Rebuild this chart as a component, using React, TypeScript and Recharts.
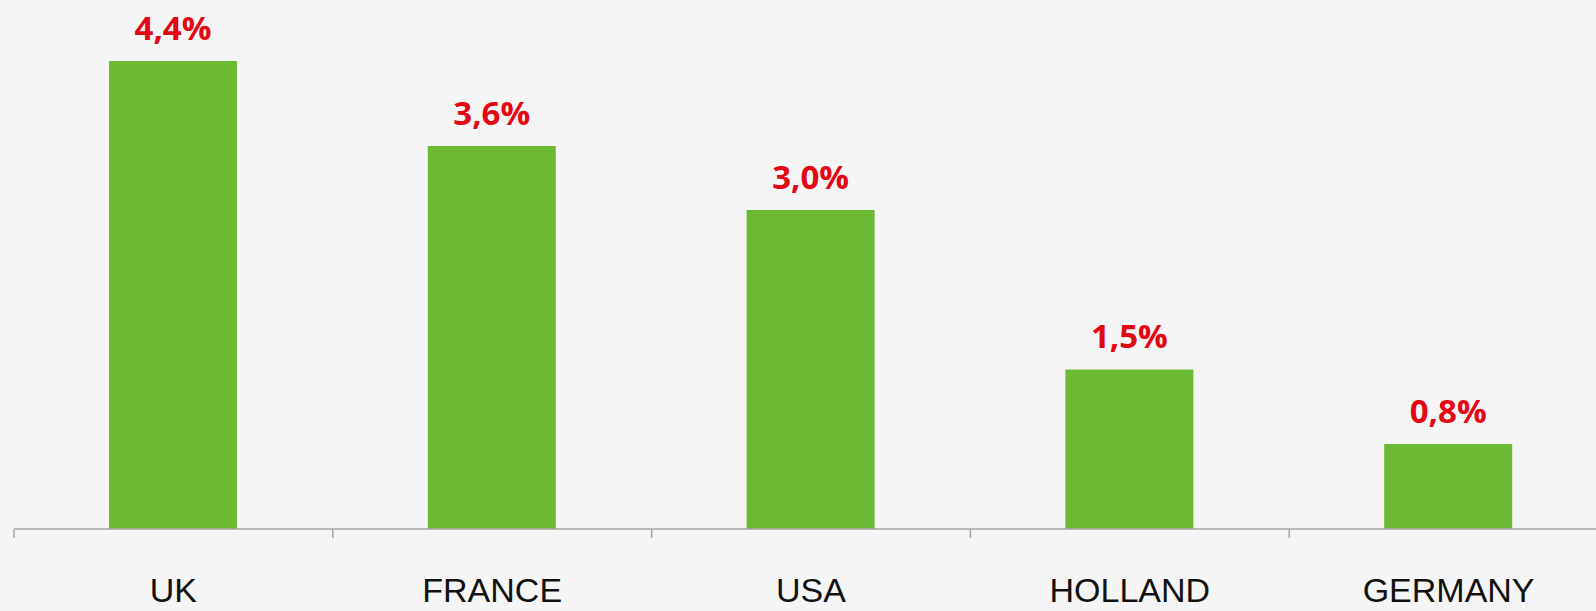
import { BarChart, Bar, XAxis, YAxis, LabelList } from "recharts";

const countries = ["UK", "FRANCE", "USA", "HOLLAND", "GERMANY"];
const growth = [4.4, 3.6, 3.0, 1.5, 0.8];

const data = countries.map((country, i) => ({ country, growth: growth[i] }));

const formatPct = (v: number) => v.toFixed(1).replace(".", ",") + "%";

// tick line sits on the band boundary, label stays centred under the bar
function CountryTick(props: any) {
  const { x, y, payload } = props;
  const half = payload.offset ?? 0;
  return (
    <g>
      <line x1={x - half} y1={y - 9} x2={x - half} y2={y} stroke="#a6a6a6" strokeWidth={1.5} />
      <text
        x={x}
        y={y + 64}
        textAnchor="middle"
        fontFamily="Liberation Sans, Arial, sans-serif"
        fontSize={34}
        fill="#111"
      >
        {payload.value}
      </text>
    </g>
  );
}

export default function App() {
  return (
    <div style={{ position: "fixed", inset: 0, background: "#f5f5f5", overflow: "hidden" }}>
      <BarChart
        width={1620}
        height={611}
        data={data}
        margin={{ top: 61, right: 12, left: 14, bottom: 0 }}
      >
        <XAxis
          dataKey="country"
          height={82}
          tickLine={false}
          tickSize={9}
          tickMargin={0}
          interval={0}
          axisLine={{ stroke: "#a6a6a6", strokeWidth: 1.5 }}
          tick={<CountryTick />}
        />
        <YAxis hide domain={[0, 4.4]} />
        <Bar dataKey="growth" fill="#6cb933" barSize={128} isAnimationActive={false}>
          <LabelList
            dataKey="growth"
            position="top"
            offset={21}
            formatter={(v: any) => formatPct(Number(v))}
            style={{ fontFamily: "Open Sans", fontWeight: 700, fontSize: 33, fill: "#e30613" }}
          />
        </Bar>
      </BarChart>
    </div>
  );
}
